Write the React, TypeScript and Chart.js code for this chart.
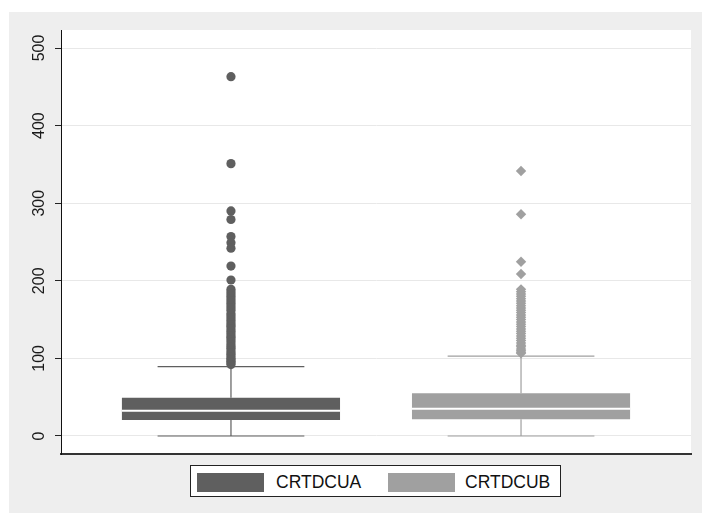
import React, { useEffect, useRef } from "react";
import { Chart, registerables } from "chart.js";

Chart.register(...registerables);

// ---- data ----
const seriesNames = ["CRTDCUA", "CRTDCUB"];
const boxPositions = [1, 2];
const lowerAdjacent = [0, 0];
const q1Values = [20.6, 21.5];
const medianValues = [32.6, 35.2];
const q3Values = [49.4, 55];
const upperAdjacent = [89.3, 103];
const outliersA = [
  463, 351, 290, 279, 257, 249, 242, 219, 201,
  189, 186, 183, 180, 177, 174, 171, 168, 165, 162, 158, 155, 152, 149, 146,
  143, 141, 138, 135, 132, 129, 127, 124, 121, 118, 115, 113, 110, 107, 105,
  102, 100, 98, 96, 94, 92,
];
const outliersB = [
  341.5, 285.7, 224.6, 208.8,
  189, 186, 183, 180, 177, 174, 171, 168, 165, 162, 159, 156, 153, 150, 147,
  144, 141, 138, 135, 132, 129, 126, 123, 120, 117, 115, 112, 110, 108, 106.5,
];
const yTicks = [0, 100, 200, 300, 400, 500];
const seriesColors = ["#5f5f5f", "#a0a0a0"];

// ---- geometry (sizes, in x-axis units) ----
const BOX_HALF = 0.376;
const CAP_HALF = 0.253;

function whiskerPoints(i: number) {
  const x = boxPositions[i];
  return [
    { x, y: q3Values[i] },
    { x, y: upperAdjacent[i] },
    { x, y: null },
    { x: x - CAP_HALF, y: upperAdjacent[i] },
    { x: x + CAP_HALF, y: upperAdjacent[i] },
    { x, y: null },
    { x, y: q1Values[i] },
    { x, y: lowerAdjacent[i] },
    { x, y: null },
    { x: x - CAP_HALF, y: lowerAdjacent[i] },
    { x: x + CAP_HALF, y: lowerAdjacent[i] },
  ];
}

function medianPoints(i: number) {
  const x = boxPositions[i];
  return [
    { x: x - BOX_HALF, y: medianValues[i] },
    { x: x + BOX_HALF, y: medianValues[i] },
  ];
}

const plotBg = {
  id: "plotBg",
  beforeDraw(chart: any) {
    const { ctx, chartArea } = chart;
    ctx.save();
    ctx.fillStyle = "#ffffff";
    ctx.fillRect(chartArea.left, chartArea.top, chartArea.right - chartArea.left, chartArea.bottom - chartArea.top);
    ctx.restore();
  },
};

export default function App() {
  const ref = useRef<HTMLCanvasElement | null>(null);

  useEffect(() => {
    if (!ref.current) return;
    const chart = new Chart(ref.current, {
      type: "bar",
      data: {
        datasets: [
          {
            type: "bar",
            label: "boxes",
            data: boxPositions.map((x, i) => ({ x, y: [q1Values[i], q3Values[i]] })) as any,
            backgroundColor: seriesColors,
            borderWidth: 0,
            categoryPercentage: 1,
            barPercentage: 0.752,
            order: 5,
          } as any,
          ...[0, 1].map((i) => ({
            type: "line",
            label: "median" + i,
            data: medianPoints(i),
            borderColor: "#ffffff",
            borderWidth: 2,
            pointRadius: 0,
            order: 4,
          })),
          ...[0, 1].map((i) => ({
            type: "line",
            label: "whisker" + i,
            data: whiskerPoints(i),
            borderColor: seriesColors[i],
            borderWidth: 1.2,
            pointRadius: 0,
            spanGaps: false,
            order: 3,
          })),
          {
            type: "scatter",
            label: seriesNames[0],
            data: outliersA.map((y) => ({ x: boxPositions[0], y })),
            backgroundColor: seriesColors[0],
            borderWidth: 0,
            pointStyle: "circle",
            pointRadius: 4.6,
            order: 1,
          },
          {
            type: "scatter",
            label: seriesNames[1],
            data: outliersB.map((y) => ({ x: boxPositions[1], y })),
            backgroundColor: seriesColors[1],
            borderWidth: 0,
            pointStyle: "rectRot",
            pointRadius: 5.2,
            order: 1,
          },
        ] as any,
      },
      options: {
        animation: false,
        responsive: false,
        events: [],
        layout: { padding: { left: 0, top: 18, right: 11, bottom: 59 } },
        plugins: {
          legend: { display: false },
          tooltip: { enabled: false },
        },
        scales: {
          x: {
            type: "linear",
            min: 0.414,
            max: 2.586,
            offset: false,
            afterBuildTicks: (s: any) => {
              s.ticks = boxPositions.map((v) => ({ value: v }));
            },
            ticks: { display: false },
            grid: { display: false, offset: false },
            border: { display: true, color: "#333333", width: 2 },
            afterFit: (s: any) => {
              s.height = 0;
            },
          },
          y: {
            type: "linear",
            min: -23.2,
            max: 523.2,
            afterBuildTicks: (s: any) => {
              s.ticks = yTicks.map((v) => ({ value: v }));
            },
            afterFit: (s: any) => {
              s.width = 52;
            },
            ticks: {
              autoSkip: false,
              minRotation: 90,
              maxRotation: 90,
              crossAlign: "center",
              padding: 2,
              color: "#1a1a1a",
              font: { family: "'Liberation Sans', Arial, sans-serif", size: 16 },
            },
            grid: {
              color: "#e8e8e8",
              lineWidth: 1,
              tickColor: "#222222",
              tickLength: 6,
            },
            border: { display: true, color: "#111111", width: 1 },
          },
        },
      } as any,
      plugins: [plotBg],
    });
    return () => chart.destroy();
  }, []);

  const swatch = (left: number, color: string) => (
    <div style={{ position: "absolute", left, top: 7, width: 67, height: 19, background: color }} />
  );
  const label = (left: number, text: string) => (
    <div
      style={{
        position: "absolute",
        left,
        top: 5,
        fontFamily: "'Liberation Sans', Arial, sans-serif",
        fontSize: 17.5,
        lineHeight: "22px",
        color: "#111",
        whiteSpace: "nowrap",
      }}
    >
      {text}
    </div>
  );

  return (
    <div style={{ position: "fixed", left: 9, top: 12, width: 693, height: 501, background: "#eeeeee" }}>
      <canvas ref={ref} width={693} height={501} style={{ display: "block" }} />
      <div
        style={{
          position: "absolute",
          left: 181,
          top: 453,
          width: 369,
          height: 30,
          border: "1px solid #222",
          background: "#ffffff",
        }}
      >
        {swatch(6, seriesColors[0])}
        {label(85, seriesNames[0])}
        {swatch(197, seriesColors[1])}
        {label(274, seriesNames[1])}
      </div>
    </div>
  );
}
